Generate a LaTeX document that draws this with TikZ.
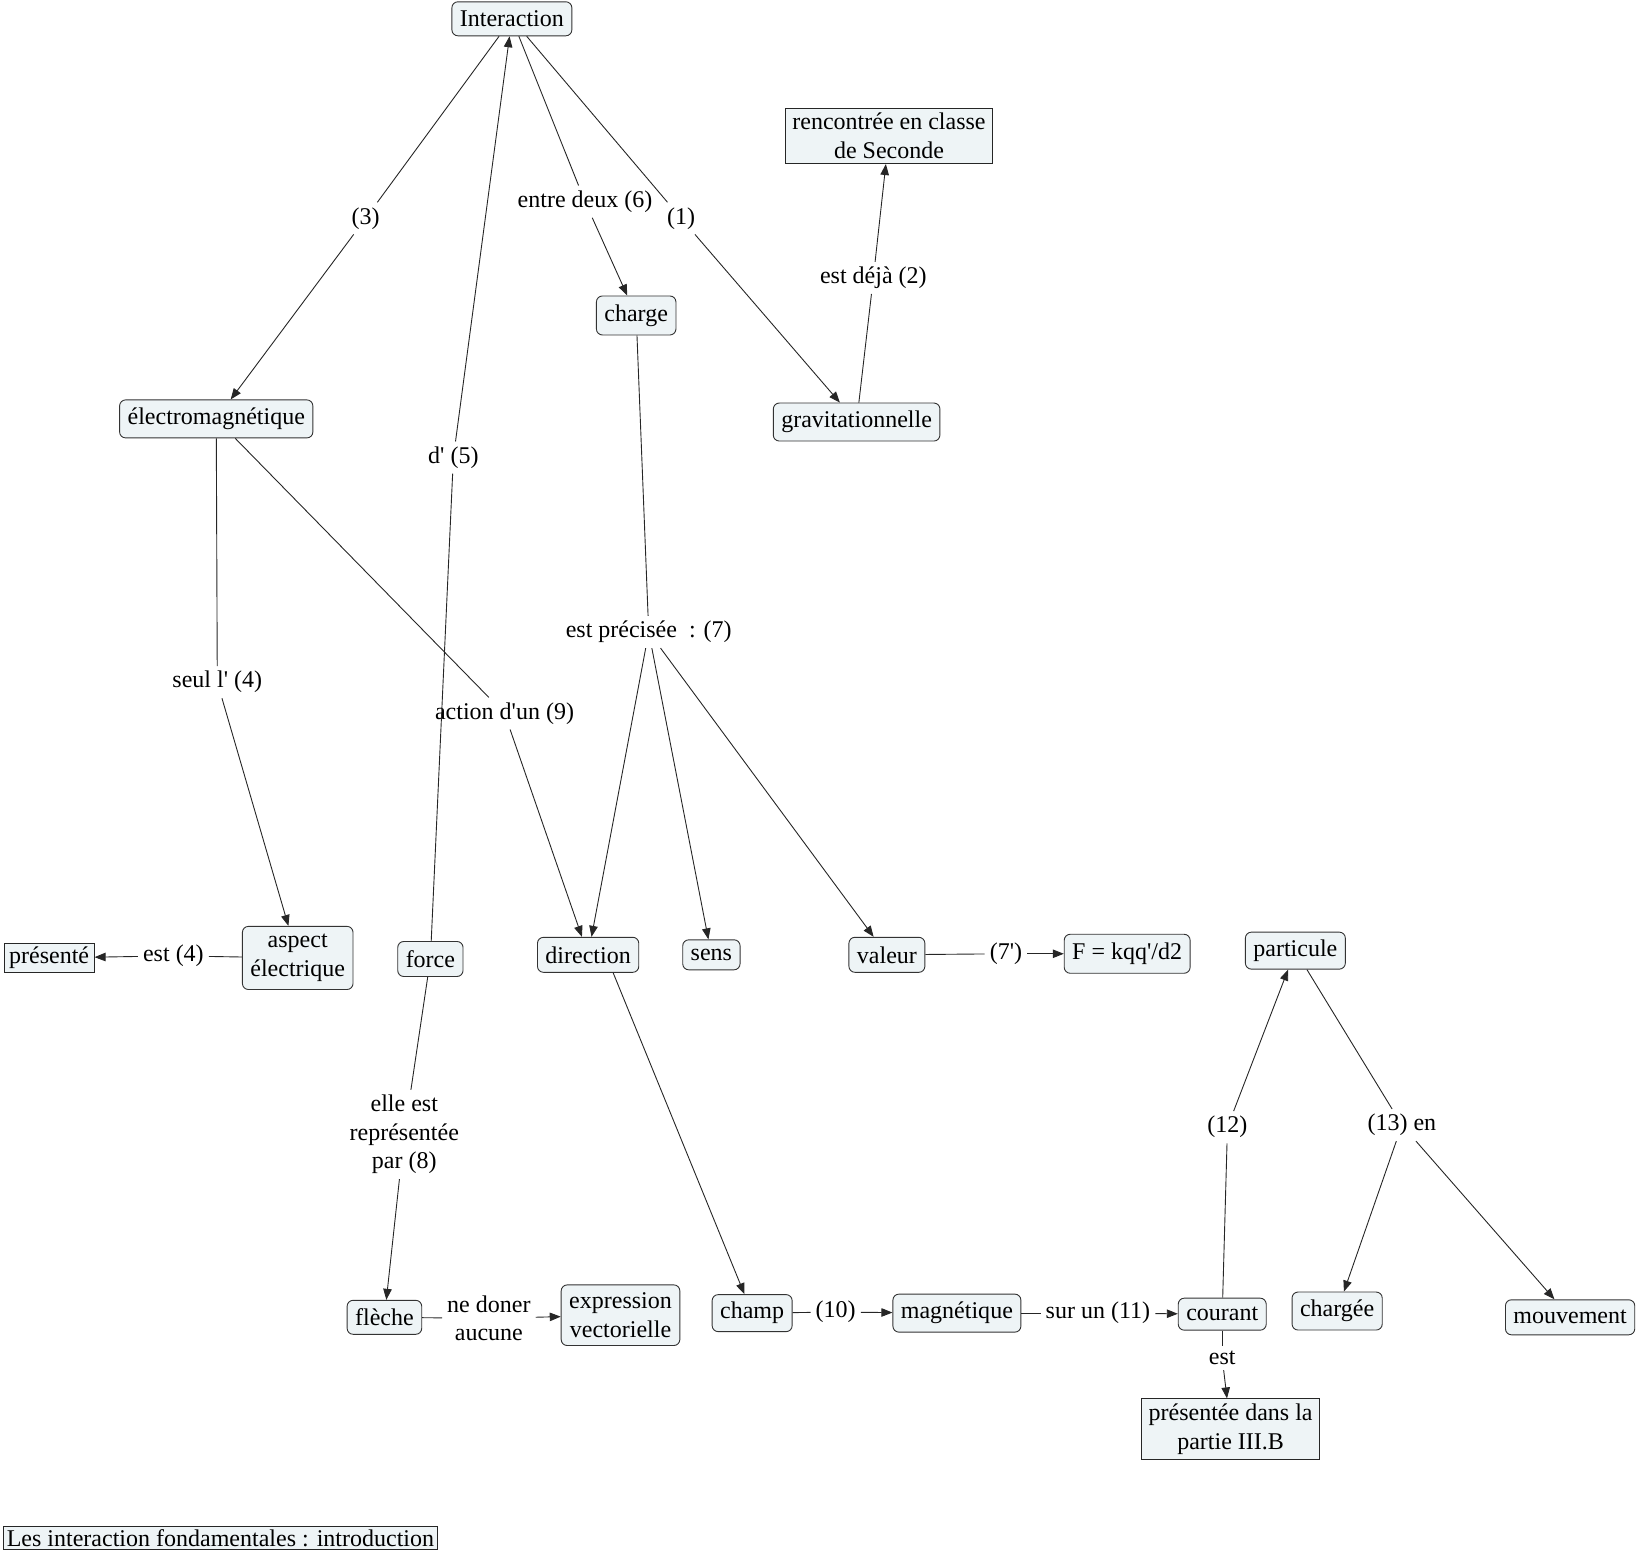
\documentclass[tikz,border=0pt]{standalone}
\usepackage{fontspec}
\setmainfont{Liberation Serif}
\usetikzlibrary{arrows.meta}
\definecolor{boxfill}{RGB}{238,244,246}
\newcommand{\ap}{\textquotesingle}
\begin{document}
\begin{tikzpicture}[x=1.0446pt,y=-1.0446pt,
  every node/.style={font=\fontsize{24}{28.5}\selectfont},
  concept/.style={draw=black!80, fill=boxfill, rounded corners=6pt, inner xsep=8pt, inner ysep=3pt, minimum height=37pt, align=center, line width=0.9pt},
  twoline/.style={inner ysep=8pt},
  sqbox/.style={draw=black!85, fill=boxfill, inner xsep=7pt, inner ysep=5pt, align=center, line width=1pt},
  phrase/.style={inner sep=5pt, align=center},
  ln/.style={draw=black!85, line width=0.9pt},
  arr/.style={ln, -{Triangle[length=11pt,width=8.5pt]}}
]
\path[use as bounding box] (0,0) rectangle (1568,1487);

% concepts
\node[concept, minimum height=34pt] (inter) at (490,18) {Interaction};
\node[sqbox] (renc) at (851,130) {rencontrée en classe\\de Seconde};
\node[concept, minimum height=39pt] (charge) at (609,302) {charge};
\node[concept, minimum height=38pt] (elec) at (207,401) {électromagnétique};
\node[concept, minimum height=38pt] (grav) at (820,404) {gravitationnelle};
\node[concept, twoline] (aspect) at (285,917) {aspect\\électrique};
\node[sqbox, inner xsep=5pt, inner ysep=4pt] (pres) at (47,917) {présenté};
\node[concept, minimum height=35pt] (force) at (412,918) {force};
\node[concept, minimum height=35pt] (dir) at (563,914) {direction};
\node[concept, minimum height=30pt] (sens) at (681,914) {sens};
\node[concept, minimum height=35pt] (val) at (849,914) {valeur};
\node[concept, minimum height=39pt] (F) at (1079,913) {F = kqq\ap/d2};
\node[concept] (part) at (1240,910) {particule};
\node[concept, minimum height=34pt] (fleche) at (368,1261) {flèche};
\node[concept, twoline] (expr) at (594,1259) {expression\\vectorielle};
\node[concept] (champ) at (720,1257) {champ};
\node[concept, minimum height=38pt] (magn) at (916,1257) {magnétique};
\node[concept, minimum height=32pt] (cour) at (1170,1258) {courant};
\node[sqbox] (partie) at (1178,1368) {présentée dans la\\partie III.B};
\node[concept, minimum height=38pt] (chargee) at (1280,1255) {chargée};
\node[concept, minimum height=35pt] (mouv) at (1503,1261) {mouvement};
\node[sqbox, inner xsep=3pt, inner ysep=3pt] (titre) at (211,1472) {Les interaction fondamentales : introduction};

% linking phrases
\node[phrase] (l3) at (350,209) {(3)};
\node[phrase] (l6) at (560,193) {entre deux (6)};
\node[phrase] (l1) at (652,209) {(1)};
\node[phrase] (l2) at (836,266) {est déjà (2)};
\node[phrase] (l5) at (434,438) {d\ap{} (5)};
\node[phrase] (l7) at (621,605) {est précisée\ \ : (7)};
\node[phrase] (l4) at (208,653) {seul l\ap{} (4)};
\node[phrase] (l9) at (483,683) {action d\ap un (9)};
\node[phrase] (le4) at (166,915) {est (4)};
\node[phrase] (l7p) at (963,913) {(7\ap)};
\node[phrase] (l8) at (387,1086) {elle est\\représentée\\par (8)};
\node[phrase] (l12) at (1175,1079) {(12)};
\node[phrase] (l13) at (1342,1077) {(13) en};
\node[phrase] (lnd) at (468,1262) {ne doner\\aucune};
\node[phrase] (l10) at (800,1256) {(10)};
\node[phrase] (l11) at (1051,1257) {sur un (11)};
\node[phrase] (lest) at (1170,1300) {est};

% connectors
\draw[ln] (inter) -- (l3);  \draw[arr] (l3) -- (elec);
\draw[ln] (inter) -- (l6);  \draw[arr] (l6) -- (charge);
\draw[ln] (inter) -- (l1);  \draw[arr] (l1) -- (grav);
\draw[ln] (grav) -- (l2);   \draw[arr] (l2) -- (renc);
\draw[ln] (force) -- (l5);  \draw[arr] (l5) -- (inter);
\draw[ln] (elec) -- (l4);   \draw[arr] (l4) -- (aspect);
\draw[ln] (elec) -- (l9);   \draw[arr] (l9) -- (dir);
\draw[ln] (charge) -- (l7);
\draw[arr] (l7) -- (dir);
\draw[arr] (l7) -- (sens);
\draw[arr] (l7) -- (val);
\draw[ln] (aspect) -- (le4); \draw[arr] (le4) -- (pres);
\draw[ln] (val) -- (l7p);   \draw[arr] (l7p) -- (F);
\draw[ln] (force) -- (l8);  \draw[arr] (l8) -- (fleche);
\draw[ln] (fleche) -- (lnd); \draw[arr] (lnd) -- (expr);
\draw[arr] ([xshift=25pt]dir.south) -- (champ);
\draw[ln] (champ) -- (l10); \draw[arr] (l10) -- (magn);
\draw[ln] (magn) -- (l11);  \draw[arr] (l11) -- (cour);
\draw[ln] (cour) -- (lest); \draw[arr] (lest) -- (partie);
\draw[ln] (cour) -- (l12);  \draw[arr] (l12) -- (part);
\draw[ln] (part) -- (l13);
\draw[arr] (l13) -- (chargee);
\draw[arr] (l13) -- (mouv);
\end{tikzpicture}
\end{document}
